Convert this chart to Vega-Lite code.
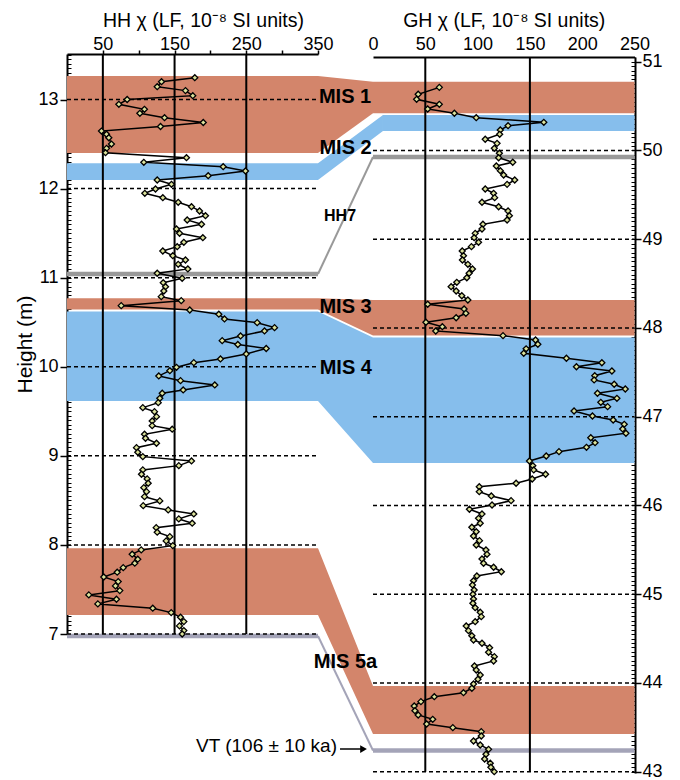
{
  "$schema": "https://vega.github.io/schema/vega-lite/v6.json",
  "autosize": {"type": "none"},
  "padding": {"left": 67, "top": 54, "right": 45, "bottom": 5},
  "width": 568,
  "height": 721,
  "background": "white",
  "config": {
    "view": {"stroke": null},
    "font": "Liberation Sans",
    "axis": {"labelFont": "Liberation Sans", "titleFont": "Liberation Sans", "labelColor": "black", "titleColor": "black", "tickColor": "black", "domainColor": "black", "grid": false, "titleFontWeight": "normal", "labelFontSize": 18, "titleFontSize": 19.5, "domainWidth": 2, "tickWidth": 1.5, "labelFlush": false, "labelOverlap": false}
  },
  "datasets": {
    "hh": [
      {"chi":178.2,"h":13.245},{"chi":131.8,"h":13.2},{"chi":125.8,"h":13.144},{"chi":165.2,"h":13.1},{"chi":175.4,"h":13.043},{"chi":83.9,"h":13.0},{"chi":72.3,"h":12.946},{"chi":108,"h":12.89},{"chi":101.6,"h":12.845},{"chi":136,"h":12.796},{"chi":190,"h":12.742},{"chi":130.4,"h":12.697},{"chi":48.1,"h":12.646},{"chi":55.1,"h":12.61},{"chi":58.3,"h":12.571},{"chi":62,"h":12.5},{"chi":55.1,"h":12.452},{"chi":53.7,"h":12.403},{"chi":166.6,"h":12.347},{"chi":107.1,"h":12.295},{"chi":217.8,"h":12.246},{"chi":248.9,"h":12.198},{"chi":196.9,"h":12.145},{"chi":125.8,"h":12.097},{"chi":145.7,"h":12.048},{"chi":123.4,"h":11.996},{"chi":108.5,"h":11.947},{"chi":133.6,"h":11.898},{"chi":155.1,"h":11.846},{"chi":173.6,"h":11.797},{"chi":184.8,"h":11.749},{"chi":193.1,"h":11.696},{"chi":167.6,"h":11.648},{"chi":187.6,"h":11.6},{"chi":152.7,"h":11.547},{"chi":157,"h":11.498},{"chi":189.4,"h":11.449},{"chi":162.9,"h":11.397},{"chi":153.7,"h":11.348},{"chi":133.6,"h":11.3},{"chi":147.5,"h":11.247},{"chi":165.2,"h":11.198},{"chi":155.1,"h":11.15},{"chi":168.5,"h":11.098},{"chi":125.8,"h":11.05},{"chi":160.6,"h":10.993},{"chi":134.2,"h":10.944},{"chi":137.4,"h":10.899},{"chi":135,"h":10.85},{"chi":131.4,"h":10.787},{"chi":159.3,"h":10.742},{"chi":75.6,"h":10.686},{"chi":171.2,"h":10.637},{"chi":211.7,"h":10.59},{"chi":219.6,"h":10.537},{"chi":265.2,"h":10.495},{"chi":289.4,"h":10.439},{"chi":275.4,"h":10.402},{"chi":242,"h":10.346},{"chi":216.4,"h":10.293},{"chi":238.2,"h":10.25},{"chi":277.8,"h":10.205},{"chi":249.9,"h":10.144},{"chi":214,"h":10.088},{"chi":176.8,"h":10.046},{"chi":152.7,"h":9.994},{"chi":143.4,"h":9.956},{"chi":128,"h":9.897},{"chi":158.3,"h":9.844},{"chi":206.1,"h":9.796},{"chi":162,"h":9.74},{"chi":132.8,"h":9.703},{"chi":129.4,"h":9.646},{"chi":127.2,"h":9.597},{"chi":105.7,"h":9.541},{"chi":122,"h":9.496},{"chi":124.8,"h":9.44},{"chi":118.8,"h":9.392},{"chi":118.8,"h":9.339},{"chi":146.7,"h":9.299},{"chi":108.1,"h":9.242},{"chi":109.5,"h":9.197},{"chi":124.8,"h":9.141},{"chi":96.9,"h":9.092},{"chi":98.7,"h":9.04},{"chi":105.7,"h":8.991},{"chi":173.6,"h":8.943},{"chi":155.9,"h":8.89},{"chi":105.7,"h":8.842},{"chi":103.9,"h":8.793},{"chi":111.8,"h":8.741},{"chi":113.2,"h":8.692},{"chi":107.1,"h":8.643},{"chi":110.9,"h":8.598},{"chi":108.1,"h":8.542},{"chi":129.4,"h":8.494},{"chi":106.3,"h":8.441},{"chi":141.1,"h":8.393},{"chi":176.8,"h":8.348},{"chi":155.9,"h":8.292},{"chi":174.6,"h":8.244},{"chi":124.4,"h":8.194},{"chi":125.8,"h":8.143},{"chi":143.4,"h":8.093},{"chi":138.3,"h":8.045},{"chi":147.5,"h":7.992},{"chi":103.5,"h":7.944},{"chi":90.9,"h":7.896},{"chi":98.7,"h":7.84},{"chi":94.5,"h":7.795},{"chi":78.4,"h":7.745},{"chi":70,"h":7.694},{"chi":51.3,"h":7.64},{"chi":71.4,"h":7.588},{"chi":67.6,"h":7.54},{"chi":73.6,"h":7.487},{"chi":30.4,"h":7.439},{"chi":69,"h":7.39},{"chi":43,"h":7.338},{"chi":119.6,"h":7.29},{"chi":145.3,"h":7.24},{"chi":158.3,"h":7.188},{"chi":162.9,"h":7.139},{"chi":156.9,"h":7.091},{"chi":162.9,"h":7.038},{"chi":160.6,"h":7.0}
    ],
    "gh": [
      {"chi":63.4,"h":50.711},{"chi":43.2,"h":50.633},{"chi":41.7,"h":50.576},{"chi":63.4,"h":50.52},{"chi":52.3,"h":50.467},{"chi":77.8,"h":50.419},{"chi":98.7,"h":50.369},{"chi":163.3,"h":50.317},{"chi":129.1,"h":50.279},{"chi":121.7,"h":50.23},{"chi":121.1,"h":50.182},{"chi":107.3,"h":50.126},{"chi":118.6,"h":50.08},{"chi":116,"h":50.024},{"chi":120.8,"h":49.968},{"chi":120.1,"h":49.918},{"chi":133.6,"h":49.867},{"chi":117.9,"h":49.825},{"chi":121.7,"h":49.772},{"chi":124.9,"h":49.723},{"chi":135.5,"h":49.667},{"chi":128.2,"h":49.618},{"chi":107.3,"h":49.566},{"chi":115.3,"h":49.517},{"chi":116.3,"h":49.468},{"chi":104.2,"h":49.416},{"chi":120.1,"h":49.366},{"chi":129.1,"h":49.318},{"chi":130.4,"h":49.265},{"chi":128.2,"h":49.216},{"chi":105.1,"h":49.168},{"chi":104.2,"h":49.115},{"chi":97.7,"h":49.066},{"chi":96.7,"h":49.017},{"chi":100.9,"h":48.965},{"chi":94.1,"h":48.916},{"chi":85.3,"h":48.867},{"chi":86.5,"h":48.814},{"chi":85.5,"h":48.766},{"chi":90.7,"h":48.717},{"chi":95.1,"h":48.664},{"chi":91.9,"h":48.616},{"chi":89.7,"h":48.566},{"chi":80.1,"h":48.514},{"chi":74.7,"h":48.465},{"chi":79.5,"h":48.416},{"chi":84.9,"h":48.363},{"chi":90.7,"h":48.315},{"chi":52.3,"h":48.267},{"chi":87.1,"h":48.214},{"chi":88.8,"h":48.165},{"chi":79.5,"h":48.115},{"chi":50.6,"h":48.064},{"chi":66.3,"h":48.014},{"chi":60,"h":47.966},{"chi":124.3,"h":47.913},{"chi":155.4,"h":47.864},{"chi":157.6,"h":47.816},{"chi":146.4,"h":47.765},{"chi":144.1,"h":47.714},{"chi":184.9,"h":47.658},{"chi":218.8,"h":47.608},{"chi":194.5,"h":47.563},{"chi":228.4,"h":47.515},{"chi":212,"h":47.462},{"chi":211.4,"h":47.414},{"chi":230.6,"h":47.365},{"chi":241.2,"h":47.312},{"chi":214.6,"h":47.264},{"chi":233.2,"h":47.207},{"chi":217.8,"h":47.162},{"chi":224.3,"h":47.113},{"chi":192.2,"h":47.064},{"chi":209.8,"h":47.008},{"chi":229.6,"h":46.963},{"chi":240.2,"h":46.914},{"chi":238.7,"h":46.862},{"chi":241.8,"h":46.813},{"chi":208.2,"h":46.763},{"chi":212.3,"h":46.707},{"chi":204.1,"h":46.655},{"chi":177.8,"h":46.606},{"chi":165.6,"h":46.557},{"chi":149.6,"h":46.501},{"chi":152.8,"h":46.448},{"chi":153.7,"h":46.4},{"chi":165,"h":46.351},{"chi":152.2,"h":46.298},{"chi":136.8,"h":46.25},{"chi":101.6,"h":46.211},{"chi":101.6,"h":46.155},{"chi":113.1,"h":46.107},{"chi":132,"h":46.054},{"chi":113.8,"h":46.005},{"chi":92.2,"h":45.957},{"chi":104.2,"h":45.904},{"chi":100.9,"h":45.855},{"chi":102.5,"h":45.799},{"chi":94.5,"h":45.754},{"chi":98.7,"h":45.704},{"chi":96.1,"h":45.656},{"chi":101.8,"h":45.603},{"chi":98.7,"h":45.554},{"chi":108,"h":45.498},{"chi":109,"h":45.449},{"chi":104.2,"h":45.397},{"chi":105.7,"h":45.348},{"chi":115.3,"h":45.303},{"chi":122.7,"h":45.253},{"chi":99.3,"h":45.205},{"chi":96.1,"h":45.152},{"chi":95.1,"h":45.104},{"chi":96.7,"h":45.047},{"chi":95.5,"h":44.999},{"chi":96.1,"h":44.946},{"chi":95.5,"h":44.898},{"chi":97.7,"h":44.848},{"chi":102.5,"h":44.796},{"chi":103.5,"h":44.747},{"chi":97.7,"h":44.69},{"chi":89.1,"h":44.642},{"chi":91.3,"h":44.589},{"chi":94.5,"h":44.532},{"chi":96.1,"h":44.484},{"chi":104.2,"h":44.447},{"chi":111.5,"h":44.397},{"chi":110.5,"h":44.345},{"chi":116,"h":44.296},{"chi":115.3,"h":44.247},{"chi":97,"h":44.191},{"chi":98.7,"h":44.146},{"chi":102.5,"h":44.089},{"chi":100.3,"h":44.041},{"chi":96.1,"h":43.988},{"chi":94.5,"h":43.94},{"chi":86.5,"h":43.89},{"chi":58.6,"h":43.845},{"chi":45.8,"h":43.789},{"chi":39.4,"h":43.74},{"chi":40.1,"h":43.687},{"chi":43.2,"h":43.639},{"chi":57.1,"h":43.59},{"chi":51.3,"h":43.537},{"chi":76.3,"h":43.496},{"chi":103.5,"h":43.451},{"chi":103.5,"h":43.402},{"chi":96.1,"h":43.346},{"chi":102.5,"h":43.301},{"chi":110.5,"h":43.252},{"chi":108,"h":43.196},{"chi":106.7,"h":43.143},{"chi":112.1,"h":43.095},{"chi":112.7,"h":43.05},{"chi":115.9,"h":43.0}
    ],
    "linkBands": [
      {"band":"MIS 1","type":"warm","x":0,"top":13.264,"bottom":12.4},{"band":"MIS 1","type":"warm","x":350,"top":13.264,"bottom":12.4},{"band":"MIS 1","type":"warm","x":426.7,"top":13.2,"bottom":12.845},
      {"band":"MIS 2","type":"cold","x":0,"top":12.284,"bottom":12.097},{"band":"MIS 2","type":"cold","x":350,"top":12.284,"bottom":12.097},{"band":"MIS 2","type":"cold","x":440.6,"top":12.826,"bottom":12.647},
      {"band":"MIS 3","type":"warm","x":0,"top":10.769,"bottom":10.643},{"band":"MIS 3","type":"warm","x":350,"top":10.769,"bottom":10.643},{"band":"MIS 3","type":"warm","x":426.7,"top":10.749,"bottom":10.351},
      {"band":"MIS 4","type":"cold","x":0,"top":10.62,"bottom":9.616},{"band":"MIS 4","type":"cold","x":350,"top":10.62,"bottom":9.616},{"band":"MIS 4","type":"cold","x":426.7,"top":10.329,"bottom":8.92},
      {"band":"MIS 5a","type":"warm","x":0,"top":7.962,"bottom":7.213},{"band":"MIS 5a","type":"warm","x":350,"top":7.962,"bottom":7.213},{"band":"MIS 5a","type":"warm","x":426.7,"top":6.416,"bottom":5.877}
    ],
    "rightBands": [
      {"band":"MIS 1","type":"warm","x0":0,"top":50.775,"bottom":50.419},
      {"band":"MIS 2","type":"cold","x0":9.5,"top":50.4,"bottom":50.219},
      {"band":"MIS 3","type":"warm","x0":0,"top":48.315,"bottom":47.915},
      {"band":"MIS 4","type":"cold","x0":0,"top":47.892,"bottom":46.478},
      {"band":"MIS 5a","type":"warm","x0":0,"top":43.965,"bottom":43.425}
    ],
    "markersL": [{"type":"hh7","h":11.041},{"type":"vt","h":6.978}],
    "markersR": [{"type":"hh7","h":49.926},{"type":"vt","h":43.239}],
    "markerLinks": [
      {"type":"hh7","x":350,"h":11.041},{"type":"hh7","x":426.7,"h":12.355},
      {"type":"vt","x":350,"h":6.978},{"type":"vt","x":426.7,"h":5.692}
    ],
    "hhDash": [{"h":7},{"h":8},{"h":9},{"h":10},{"h":11},{"h":12},{"h":13}],
    "ghDash": [{"h":43},{"h":44},{"h":45},{"h":46},{"h":47},{"h":48},{"h":49},{"h":50}],
    "hhRef": [{"v":50},{"v":150},{"v":250}],
    "ghRef": [{"v":50},{"v":150}],
    "misLabels": [
      {"label":"MIS 1","x":387.7,"h":13.023},
      {"label":"MIS 2","x":388.4,"h":12.461},
      {"label":"MIS 3","x":388.4,"h":10.674},
      {"label":"MIS 4","x":388.8,"h":9.983},
      {"label":"MIS 5a","x":388.4,"h":6.689}
    ],
    "hh7Label": [{"label":"HH7","x":380.7,"h":11.687}],
    "vtLabel": [{"label":"VT (106 ± 10 ka)","x":376.5,"h":5.746,"x1":380.7,"x2":410.5,"tip":413.5}]
  },
  "layer": [
    {
      "data": {"name": "linkBands"},
      "mark": {"type": "area", "orient": "vertical", "opacity": 1},
      "encoding": {
        "x": {"field": "x", "type": "quantitative", "scale": {"domain": [0, 350], "range": [0, 251]}, "axis": null},
        "y": {"field": "top", "type": "quantitative", "scale": {"domain": [7, 13.511], "range": [580, 0]}, "axis": null, "stack": null},
        "y2": {"field": "bottom"},
        "detail": {"field": "band"},
        "color": {"field": "type", "type": "nominal", "scale": {"domain": ["warm", "cold", "hh7", "vt"], "range": ["#D3856B", "#86BEEC", "#999999", "#A4A4B8"]}, "legend": null}
      }
    },
    {
      "data": {"name": "rightBands"},
      "mark": {"type": "rect", "opacity": 1},
      "encoding": {
        "x": {"field": "x0", "type": "quantitative", "scale": {"domain": [0, 250], "range": [306, 567.5]}, "axis": null},
        "x2": {"datum": 250},
        "y": {"field": "top", "type": "quantitative", "scale": {"domain": [42.985, 51.053], "range": [719, 3]}, "axis": null},
        "y2": {"field": "bottom"},
        "color": {"field": "type", "type": "nominal", "legend": null}
      }
    },
    {
      "data": {"name": "markersL"},
      "mark": {"type": "rule", "strokeWidth": 4.5},
      "encoding": {
        "x": {"datum": 0, "type": "quantitative", "scale": {"domain": [0, 350], "range": [0, 251]}, "axis": null},
        "x2": {"datum": 350},
        "y": {"field": "h", "type": "quantitative", "scale": {"domain": [7, 13.511], "range": [580, 0]}, "axis": null},
        "color": {"field": "type", "type": "nominal", "legend": null}
      }
    },
    {
      "data": {"name": "markersR"},
      "mark": {"type": "rule", "strokeWidth": 4.5},
      "encoding": {
        "x": {"datum": 0, "type": "quantitative", "scale": {"domain": [0, 250], "range": [306, 567.5]}, "axis": null},
        "x2": {"datum": 250},
        "y": {"field": "h", "type": "quantitative", "scale": {"domain": [42.985, 51.053], "range": [719, 3]}, "axis": null},
        "color": {"field": "type", "type": "nominal", "legend": null}
      }
    },
    {
      "data": {"name": "markerLinks"},
      "mark": {"type": "line", "strokeWidth": 2},
      "encoding": {
        "x": {"field": "x", "type": "quantitative", "scale": {"domain": [0, 350], "range": [0, 251]}, "axis": null},
        "y": {"field": "h", "type": "quantitative", "scale": {"domain": [7, 13.511], "range": [580, 0]}, "axis": null},
        "color": {"field": "type", "type": "nominal", "legend": null}
      }
    },
    {
      "data": {"name": "hhDash"},
      "mark": {"type": "rule", "strokeWidth": 1.5, "strokeDash": [4, 3], "color": "black"},
      "encoding": {
        "x": {"datum": 0, "type": "quantitative", "scale": {"domain": [0, 350], "range": [0, 251]}, "axis": null},
        "x2": {"datum": 350},
        "y": {"field": "h", "type": "quantitative", "scale": {"domain": [7, 13.511], "range": [580, 0]},
              "axis": {"orient": "left", "values": [7, 8, 9, 10, 11, 12, 13], "tickSize": 7, "labelPadding": 2, "title": "Height (m)", "titleFontSize": 21, "titlePadding": 2}}
      }
    },
    {
      "data": {"name": "ghDash"},
      "mark": {"type": "rule", "strokeWidth": 1.5, "strokeDash": [4, 3], "color": "black"},
      "encoding": {
        "x": {"datum": 0, "type": "quantitative", "scale": {"domain": [0, 250], "range": [306, 567.5]}, "axis": null},
        "x2": {"datum": 250},
        "y": {"field": "h", "type": "quantitative", "scale": {"domain": [42.985, 51.053], "range": [719, 3]},
              "axis": {"orient": "right", "values": [43, 44, 45, 46, 47, 48, 49, 50, 51], "tickSize": 6, "labelPadding": 1, "title": null}}
      }
    },
    {
      "data": {"name": "hhRef"},
      "mark": {"type": "rule", "strokeWidth": 2, "color": "black"},
      "encoding": {
        "x": {"field": "v", "type": "quantitative", "scale": {"domain": [0, 350], "range": [0, 251]}, "axis": null},
        "y": {"datum": 7, "type": "quantitative", "scale": {"domain": [7, 13.511], "range": [580, 0]},
              "axis": {"orient": "right", "offset": -568, "tickCount": 200, "labels": false, "tickSize": 4, "tickWidth": 1, "domain": false, "title": null}},
        "y2": {"datum": 13.511}
      }
    },
    {
      "data": {"name": "ghRef"},
      "mark": {"type": "rule", "strokeWidth": 2, "color": "black"},
      "encoding": {
        "x": {"field": "v", "type": "quantitative", "scale": {"domain": [0, 250], "range": [306, 567.5]}, "axis": null},
        "y": {"datum": 43, "type": "quantitative", "scale": {"domain": [42.985, 51.053], "range": [719, 3]},
              "axis": {"orient": "left", "offset": -568, "tickCount": 200, "labels": false, "tickSize": 4, "tickWidth": 1, "domain": false, "title": null}},
        "y2": {"datum": 51.053}
      }
    },
    {
      "data": {"name": "hh"},
      "mark": {"type": "line", "color": "black", "strokeWidth": 1.5},
      "encoding": {
        "x": {"field": "chi", "type": "quantitative", "scale": {"domain": [0, 350], "range": [0, 251]},
              "axis": {"orient": "top", "values": [50, 100, 150, 200, 250, 300, 350], "labelExpr": "datum.value % 100 == 50 ? datum.label : ''", "tickSize": 4, "labelPadding": -3, "title": "HH χ (LF, 10⁻⁸ SI units)", "titlePadding": 5, "titleX": 136}},
        "y": {"field": "h", "type": "quantitative", "scale": {"domain": [7, 13.511], "range": [580, 0]}, "axis": null},
        "order": {"field": "h", "type": "quantitative", "sort": "descending"}
      }
    },
    {
      "data": {"name": "hh"},
      "mark": {"type": "point", "shape": "diamond", "filled": true, "fill": "#DCE39C", "stroke": "black", "strokeWidth": 1.3, "size": 36, "opacity": 1},
      "encoding": {
        "x": {"field": "chi", "type": "quantitative", "scale": {"domain": [0, 350], "range": [0, 251]}, "axis": null},
        "y": {"field": "h", "type": "quantitative", "scale": {"domain": [7, 13.511], "range": [580, 0]}, "axis": null}
      }
    },
    {
      "data": {"name": "gh"},
      "mark": {"type": "line", "color": "black", "strokeWidth": 1.5},
      "encoding": {
        "x": {"field": "chi", "type": "quantitative", "scale": {"domain": [0, 250], "range": [306, 567.5]},
              "axis": {"orient": "top", "values": [0, 50, 100, 150, 200, 250], "ticks": false, "offset": -3, "labelPadding": 4, "title": "GH χ (LF, 10⁻⁸ SI units)", "titlePadding": 5}},
        "y": {"field": "h", "type": "quantitative", "scale": {"domain": [42.985, 51.053], "range": [719, 3]}, "axis": null},
        "order": {"field": "h", "type": "quantitative", "sort": "descending"}
      }
    },
    {
      "data": {"name": "gh"},
      "mark": {"type": "point", "shape": "diamond", "filled": true, "fill": "#DCE39C", "stroke": "black", "strokeWidth": 1.3, "size": 36, "opacity": 1},
      "encoding": {
        "x": {"field": "chi", "type": "quantitative", "scale": {"domain": [0, 250], "range": [306, 567.5]}, "axis": null},
        "y": {"field": "h", "type": "quantitative", "scale": {"domain": [42.985, 51.053], "range": [719, 3]}, "axis": null}
      }
    },
    {
      "data": {"name": "misLabels"},
      "mark": {"type": "text", "font": "Liberation Sans", "fontWeight": "bold", "fontSize": 20, "align": "center", "baseline": "middle", "color": "black"},
      "encoding": {
        "x": {"field": "x", "type": "quantitative", "scale": {"domain": [0, 350], "range": [0, 251]}, "axis": null},
        "y": {"field": "h", "type": "quantitative", "scale": {"domain": [7, 13.511], "range": [580, 0]}, "axis": null},
        "text": {"field": "label"}
      }
    },
    {
      "data": {"name": "hh7Label"},
      "mark": {"type": "text", "font": "Liberation Sans", "fontWeight": "bold", "fontSize": 16, "align": "center", "baseline": "middle", "color": "black"},
      "encoding": {
        "x": {"field": "x", "type": "quantitative", "scale": {"domain": [0, 350], "range": [0, 251]}, "axis": null},
        "y": {"field": "h", "type": "quantitative", "scale": {"domain": [7, 13.511], "range": [580, 0]}, "axis": null},
        "text": {"field": "label"}
      }
    },
    {
      "data": {"name": "vtLabel"},
      "mark": {"type": "text", "font": "Liberation Sans", "fontSize": 19, "align": "right", "baseline": "middle", "color": "black"},
      "encoding": {
        "x": {"field": "x", "type": "quantitative", "scale": {"domain": [0, 350], "range": [0, 251]}, "axis": null},
        "y": {"field": "h", "type": "quantitative", "scale": {"domain": [7, 13.511], "range": [580, 0]}, "axis": null},
        "text": {"field": "label"}
      }
    },
    {
      "data": {"name": "vtLabel"},
      "mark": {"type": "rule", "color": "black", "strokeWidth": 1.5},
      "encoding": {
        "x": {"field": "x1", "type": "quantitative", "scale": {"domain": [0, 350], "range": [0, 251]}, "axis": null},
        "x2": {"field": "x2"},
        "y": {"datum": 5.709, "type": "quantitative", "scale": {"domain": [7, 13.511], "range": [580, 0]}, "axis": null}
      }
    },
    {
      "data": {"name": "vtLabel"},
      "mark": {"type": "point", "shape": "triangle-right", "filled": true, "color": "black", "size": 60, "opacity": 1},
      "encoding": {
        "x": {"field": "tip", "type": "quantitative", "scale": {"domain": [0, 350], "range": [0, 251]}, "axis": null},
        "y": {"datum": 5.709, "type": "quantitative", "scale": {"domain": [7, 13.511], "range": [580, 0]}, "axis": null}
      }
    }
  ],
  "resolve": {"scale": {"x": "independent", "y": "independent"}, "axis": {"x": "independent", "y": "independent"}}
}
